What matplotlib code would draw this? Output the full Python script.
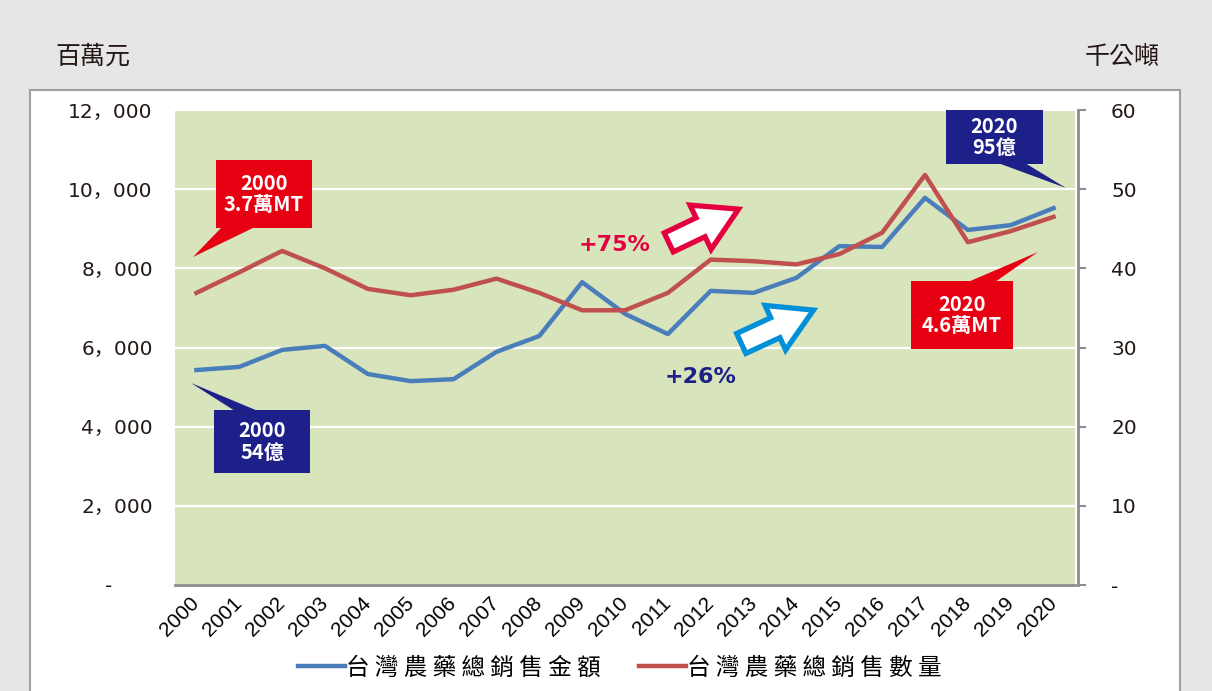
import numpy as np
import matplotlib
matplotlib.use("Agg")
import matplotlib.pyplot as plt
from matplotlib.patches import Polygon, Rectangle

W, H = 1212, 691

years = [str(y) for y in range(2000, 2021)]
sales_amount = [5430, 5510, 5940, 6040, 5330, 5150, 5200, 5890, 6290, 7650, 6850,
                6340, 7430, 7380, 7760, 8560, 8540, 9780, 8970, 9090, 9520]
sales_qty = [36.9, 39.5, 42.2, 40.0, 37.4, 36.6, 37.3, 38.7, 36.9, 34.7, 34.7,
             36.9, 41.1, 40.9, 40.5, 41.8, 44.5, 51.8, 43.3, 44.7, 46.5]
series_names = ["台灣農藥總銷售金額", "台灣農藥總銷售數量"]
left_ticks = [0, 2000, 4000, 6000, 8000, 10000, 12000]
right_ticks = [0, 10, 20, 30, 40, 50, 60]

CJK = ["Noto Sans CJK TC", "DejaVu Sans"]
NUM = ["DejaVu Sans", "Noto Sans CJK JP"]

fig = plt.figure(figsize=(W / 100, H / 100), dpi=100, facecolor="#e6e6e6")


def F(x, y):
    return (x / W, 1 - y / H)


# white panel
panel = Rectangle(F(30, 720), 1150 / W, (720 - 90) / H, transform=fig.transFigure,
                  facecolor="white", edgecolor="#a0a0a0", lw=1.5, zorder=-1)
fig.add_artist(panel)

ax = fig.add_axes([175 / W, 1 - 585 / H, 900 / W, 475 / H])
ax.set_facecolor("#d8e4bc")
x = np.arange(len(years))
l1, = ax.plot(x, sales_amount, color="#4a7ebb", lw=3.2)
ax.set_xlim(-0.5, len(years) - 0.5)
ax.set_ylim(0, 12000)
ax.set_yticks(left_ticks)
ax.set_yticklabels(["-\u3000\u3000" if v == 0 else f"{v:,}".replace(",", "，") for v in left_ticks])
ax.tick_params(axis="y", length=0, pad=16, labelsize=14.5, labelcolor="#231815",
               labelfontfamily=NUM)
ax.set_xticks(x)
ax.set_xticklabels(years, rotation=45, ha="right", va="center", rotation_mode="anchor")
ax.tick_params(axis="x", length=0, pad=11, labelsize=15, labelfontfamily="Liberation Sans")
ax.grid(axis="y", color="white", lw=1.6)
ax.set_axisbelow(True)
for s in ["top", "left", "right"]:
    ax.spines[s].set_visible(False)
ax.spines["bottom"].set_color("#8c8c8c")
ax.spines["bottom"].set_linewidth(2)

ax2 = ax.twinx()
l2, = ax2.plot(x, sales_qty, color="#c0504d", lw=3.2)
ax2.set_ylim(0, 60)
ax2.set_yticks(right_ticks)
ax2.set_yticklabels(["-" if v == 0 else str(v) for v in right_ticks])
ax2.tick_params(axis="y", direction="out", length=6, width=1.5, color="#8c8c8c", pad=18,
                labelsize=14.5, labelcolor="#231815", labelfontfamily=NUM)
for s in ["top", "left", "bottom"]:
    ax2.spines[s].set_visible(False)
ax2.spines["right"].set_color("#8c8c8c")
ax2.spines["right"].set_linewidth(2)
ax2.spines["right"].set_position(("outward", 2))

# unit labels
fig.text(*F(55, 57), "百萬元", family=CJK, fontsize=18, va="center", ha="left", color="#231815")
fig.text(*F(1160, 57), "千公噸", family=CJK, fontsize=18, va="center", ha="right", color="#231815")

# legend
fig.legend([l1, l2], [" ".join(n) for n in series_names], loc="center",
           bbox_to_anchor=F(620, 668), ncol=2, frameon=False, prop={"family": CJK, "size": 17},
           handlelength=2.0, handletextpad=0.05, columnspacing=1.6)


def callout(x0, y0, x1, y1, tri, color, text, fs=14.5):
    rect = Polygon([F(x0, y0), F(x1, y0), F(x1, y1), F(x0, y1)], closed=True,
                   transform=fig.transFigure, facecolor=color, edgecolor="none", zorder=5)
    t = Polygon([F(*p) for p in tri], closed=True, transform=fig.transFigure,
                facecolor=color, edgecolor="none", zorder=5)
    fig.add_artist(rect)
    fig.add_artist(t)
    fig.text(*F((x0 + x1) / 2, (y0 + y1) / 2), text, ha="center", va="center", color="white",
             fontsize=fs, fontweight="bold", family=CJK, linespacing=1.05, zorder=6)


RED = "#e60012"
NAVY = "#1d2088"
callout(216, 160, 312, 228, [(222, 227), (255, 227), (193, 257)], RED, "2000\n3.7萬MT")
callout(214, 410, 310, 473, [(235, 411), (258, 411), (191, 383)], NAVY, "2000\n54億")
callout(946, 110, 1043, 164, [(998, 163), (1025, 163), (1066, 188)], NAVY, "2020\n95億")
callout(911, 281, 1013, 349, [(968, 282), (995, 282), (1038, 252)], RED, "2020\n4.6萬MT")


def block_arrow(T, S, w, hw, hl, edge, lw=3.8):
    T = np.array(T, float)
    S = np.array(S, float)
    u = (S - T) / np.linalg.norm(S - T)
    T = T + u * 2.5
    S = S - u * 5
    n = np.array([-u[1], u[0]])
    B = S - u * hl
    pts = [T + n * w / 2, B + n * w / 2, B + n * hw / 2, S, B - n * hw / 2, B - n * w / 2, T - n * w / 2]
    p = Polygon([F(*q) for q in pts], closed=True, transform=fig.transFigure,
                facecolor="white", edgecolor=edge, lw=lw, joinstyle="miter", zorder=5)
    fig.add_artist(p)


block_arrow((666.5, 243.5), (743, 207), 21, 49, 42, "#e4003f")
block_arrow((739, 344.5), (818, 308), 22, 49, 42, "#0090d8")

fig.text(*F(615, 245), "+75%", ha="center", va="center", color="#e4003f", fontsize=16,
         fontweight="bold", family="DejaVu Sans")
fig.text(*F(701, 377), "+26%", ha="center", va="center", color=NAVY, fontsize=16,
         fontweight="bold", family="DejaVu Sans")

fig.savefig("out.png", dpi=100, facecolor=fig.get_facecolor())
